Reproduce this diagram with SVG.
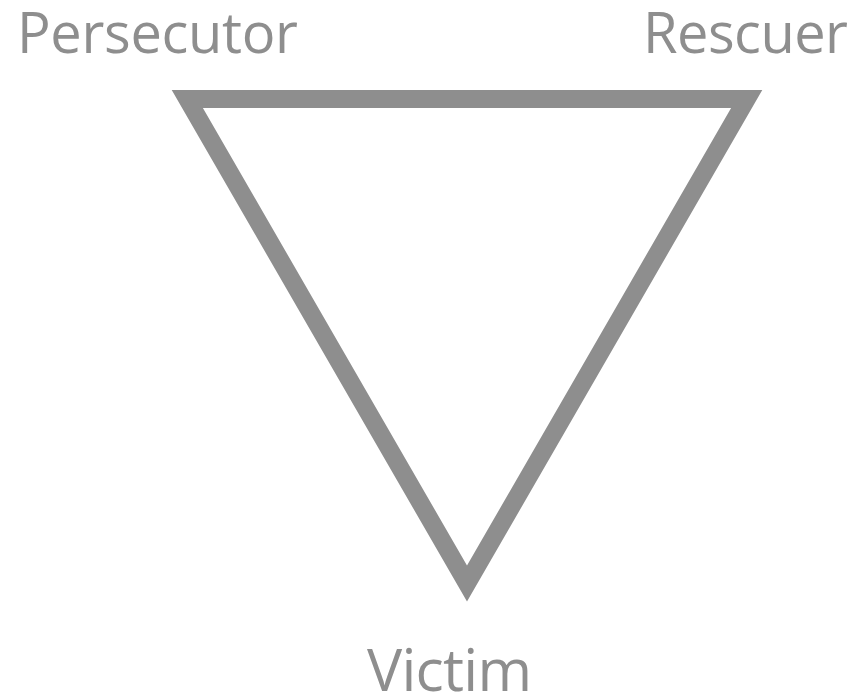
<svg xmlns="http://www.w3.org/2000/svg" width="856" height="697" viewBox="0 0 856 697">
<style>
.lbl{font-family:"Open Sans","Noto Sans","Liberation Sans",sans-serif;font-size:56px;fill:#8e8e8e}
.edge{fill:none;stroke:#8e8e8e;stroke-width:18;stroke-linejoin:miter;stroke-miterlimit:4}
</style>
<rect width="856" height="697" fill="#ffffff"/>
<g id="connectors">
<polygon class="edge" points="187.3,99 746.7,99 467,583.5"/>
</g>
<g id="persecutor"><text class="lbl" x="17" y="53" textLength="281">Persecutor</text></g>
<g id="rescuer"><text class="lbl" x="643" y="53" textLength="205">Rescuer</text></g>
<g id="victim"><text class="lbl" x="367" y="691" style="font-size:59px" textLength="165">Victim</text></g>
</svg>
